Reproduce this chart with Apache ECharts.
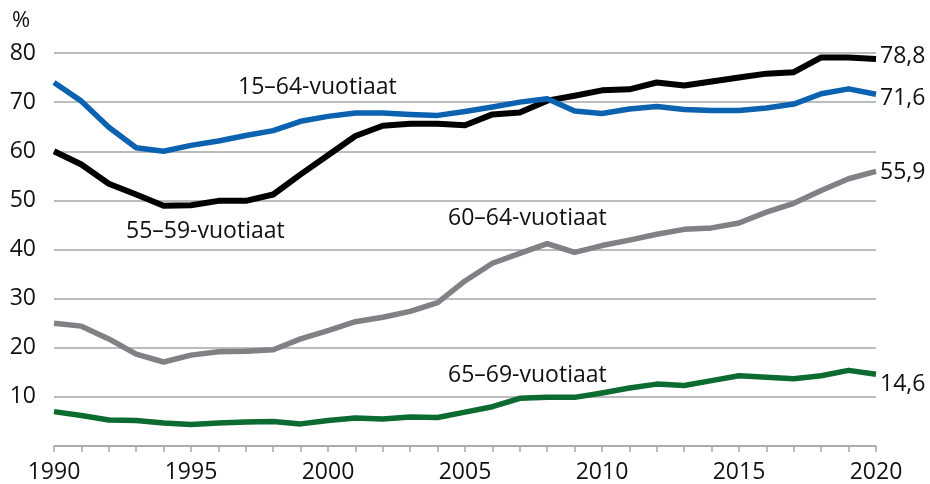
<!DOCTYPE html>
<html>
<head>
<meta charset="utf-8">
<script src="https://cdn.jsdelivr.net/npm/echarts@6/dist/echarts.min.js"></script>
<style>
  html, body { margin: 0; padding: 0; background: #fff; }
  #chart { width: 930px; height: 484px; }
</style>
</head>
<body>
<div id="chart"></div>
<script>
  // vuodet 1990-2020
  var years = [];
  for (var y = 1990; y <= 2020; y++) years.push(String(y));

  var yTicks = [0, 10, 20, 30, 40, 50, 60, 70, 80];

  var age15_64 = [74.0, 70.2, 64.9, 60.7, 60.0, 61.2, 62.1, 63.2, 64.2, 66.1,
                  67.1, 67.8, 67.8, 67.5, 67.3, 68.1, 69.0, 70.0, 70.7, 68.2,
                  67.7, 68.6, 69.1, 68.5, 68.3, 68.3, 68.8, 69.6, 71.7, 72.7, 71.6];
  var age55_59 = [60.0, 57.3, 53.4, 51.2, 48.9, 49.0, 49.9, 49.9, 51.2, 55.3,
                  59.2, 63.1, 65.2, 65.6, 65.6, 65.3, 67.5, 67.9, 70.3, 71.3,
                  72.4, 72.6, 74.0, 73.4, 74.2, 75.0, 75.8, 76.1, 79.1, 79.1, 78.8];
  var age60_64 = [25.0, 24.4, 21.8, 18.7, 17.1, 18.5, 19.2, 19.3, 19.6, 21.8,
                  23.5, 25.3, 26.2, 27.4, 29.2, 33.6, 37.2, 39.2, 41.2, 39.4,
                  40.8, 41.9, 43.1, 44.1, 44.4, 45.4, 47.6, 49.4, 52.0, 54.4, 55.9];
  var age65_69 = [7.0, 6.2, 5.3, 5.2, 4.7, 4.4, 4.7, 4.9, 5.0, 4.5,
                  5.2, 5.7, 5.5, 5.9, 5.8, 6.9, 8.0, 9.7, 9.9, 9.9,
                  10.8, 11.8, 12.6, 12.3, 13.3, 14.3, 14.0, 13.7, 14.3, 15.4, 14.6];

  var FONT = '"Open Sans", "Noto Sans", sans-serif';
  var FS = 23;
  var TXT = '#111';

  function endLbl(dy) {
    return {
      show: true,
      distance: 4,
      offset: [0, dy],
      color: TXT,
      fontFamily: FONT,
      fontSize: FS,
      formatter: function (p) { return String(p.value).replace('.', ','); }
    };
  }

  function line(name, data, color, width, dy) {
    return {
      name: name,
      type: 'line',
      data: data,
      symbol: 'none',
      lineStyle: { color: color, width: width, cap: 'butt', join: 'round' },
      endLabel: endLbl(dy),
      emphasis: { disabled: true },
      animation: false
    };
  }

  var chart = echarts.init(document.getElementById('chart'));

  var option = {
    backgroundColor: '#fff',
    animation: false,
    grid: { left: 54, right: 54, top: 53, bottom: 37 },
    xAxis: {
      type: 'category',
      data: years,
      boundaryGap: false,
      axisLine: { show: true, lineStyle: { color: '#a6a6a6', width: 1.5 } },
      axisTick: { show: true, interval: 0, length: 6, lineStyle: { color: '#a6a6a6', width: 1.5 } },
      axisLabel: {
        interval: 4,
        margin: 15,
        color: TXT,
        fontFamily: FONT,
        fontSize: FS
      },
      splitLine: { show: false }
    },
    yAxis: {
      type: 'value',
      min: yTicks[0],
      max: yTicks[yTicks.length - 1],
      interval: 10,
      axisLine: { show: false },
      axisTick: { show: false },
      axisLabel: {
        margin: 18,
        color: TXT,
        fontFamily: FONT,
        fontSize: FS,
        formatter: function (v) { return v === 0 ? '' : String(v); }
      },
      splitLine: { show: true, lineStyle: { color: '#a6a6a6', width: 1.5 } }
    },
    graphic: [
      { type: 'text', x: 12, y: 21, style: { text: '%', fill: TXT, font: '22px ' + FONT, verticalAlign: 'middle' } },
      { type: 'text', x: 238, y: 87, style: { text: '15–64-vuotiaat', fill: TXT, font: FS + 'px ' + FONT, verticalAlign: 'middle' } },
      { type: 'text', x: 126, y: 231, style: { text: '55–59-vuotiaat', fill: TXT, font: FS + 'px ' + FONT, verticalAlign: 'middle' } },
      { type: 'text', x: 448, y: 218, style: { text: '60–64-vuotiaat', fill: TXT, font: FS + 'px ' + FONT, verticalAlign: 'middle' } },
      { type: 'text', x: 448, y: 375, style: { text: '65–69-vuotiaat', fill: TXT, font: FS + 'px ' + FONT, verticalAlign: 'middle' } }
    ],
    series: [
      line('60–64-vuotiaat', age60_64, '#7f8184', 5.5, 1),
      line('65–69-vuotiaat', age65_69, '#0b6b30', 5.5, 10),
      line('55–59-vuotiaat', age55_59, '#000000', 6, -2),
      line('15–64-vuotiaat', age15_64, '#0a62b0', 5.5, 4)
    ]
  };

  chart.setOption(option);
</script>
</body>
</html>
